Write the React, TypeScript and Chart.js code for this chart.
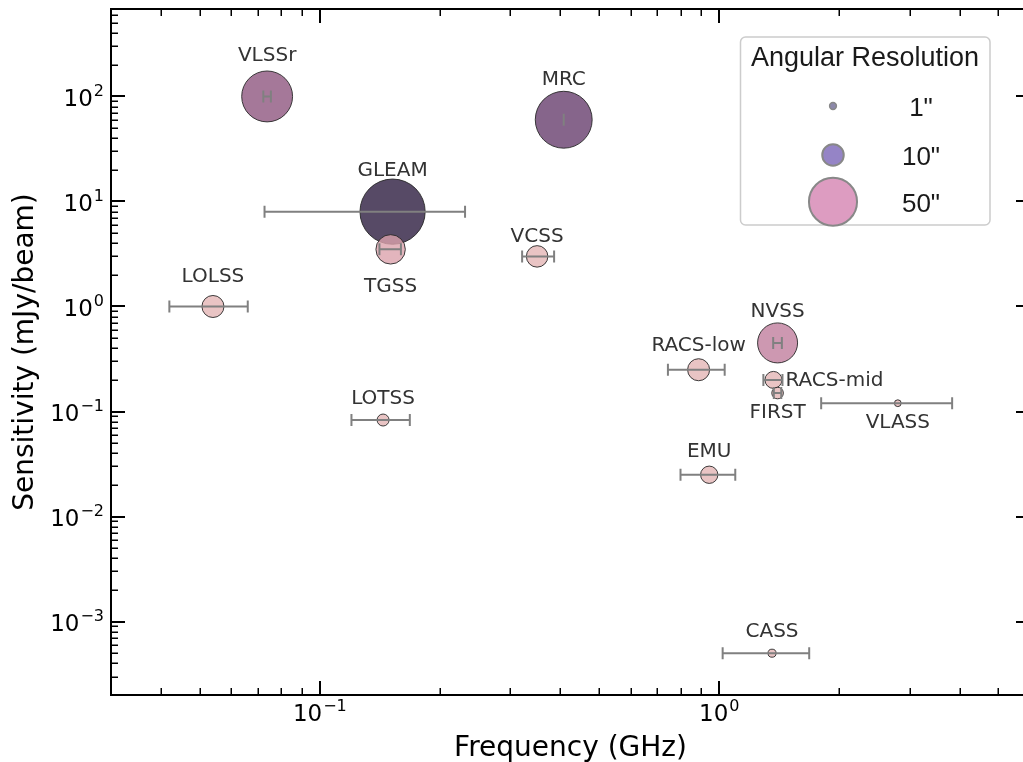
import React, { useEffect, useRef } from "react";
import { Chart, registerables } from "chart.js";

Chart.register(...registerables);

// ---- Data ----
const surveys = ["LOLSS", "VLSSr", "GLEAM", "TGSS", "LOTSS", "VCSS", "MRC", "RACS-low", "EMU", "NVSS", "RACS-mid", "FIRST", "CASS", "VLASS"];
const frequencyGHz = [0.054, 0.0738, 0.1521, 0.1504, 0.144, 0.35, 0.408, 0.888, 0.944, 1.40, 1.367, 1.40, 1.356, 2.8];
const sensitivityMJy = [1.0, 100, 8, 3.5, 0.083, 3.0, 60, 0.25, 0.025, 0.45, 0.2, 0.15, 0.0005, 0.12];
const resolutionArcsec = [10.5, 56, 92, 18.7, 3.1, 10, 70, 10.5, 6.5, 34.6, 6.25, 2.9, 1.4, 1.0];
const freqLowGHz = [0.042, 0.0722, 0.0727, 0.141, 0.120, 0.321, 0.408, 0.744, 0.80, 1.365, 1.29, 1.37, 1.02, 1.80];
const freqHighGHz = [0.066, 0.0754, 0.231, 0.1596, 0.168, 0.386, 0.408, 1.032, 1.097, 1.435, 1.44, 1.43, 1.68, 3.83];

const xMajorTicks = [0.1, 1];
const xTickExponents = ["−1", "0"];
const yMajorTicks = [1e-3, 1e-2, 1e-1, 1, 10, 100];
const yTickExponents = ["−3", "−2", "−1", "0", "1", "2"];

const legendTitle = "Angular Resolution";
const legendResolutions = [1, 10, 50];
const legendLabels = ['1"', '10"', '50"'];

// ---- Styles ----
const pointColors = [
  "#e9c4c4", "#a57899", "#574a66", "#e3b5bd", "#e9c4c4", "#e9c4c4", "#86658b",
  "#e9c4c4", "#e9c4c4", "#cd98b1", "#e9c4c4", "#e9c4c4", "#e9c4c4", "#e9c4c4",
];
// label offset (px) of label centre from point centre
const labelOffsets: [number, number][] = [
  [0, -31], [0, -42], [0, -42], [0, 36], [0, -22], [0, -21], [0, -41],
  [0, -25], [0, -24], [0, -32], [61, 0], [0, 19], [0, -22], [0, 19],
];
const legendColors = ["#8c88aa", "#9584c6", "#dd9cc1"];

const ALPHA = 0.8;
function withAlpha(hex: string, a: number) {
  const r = parseInt(hex.slice(1, 3), 16);
  const g = parseInt(hex.slice(3, 5), 16);
  const b = parseInt(hex.slice(5, 7), 16);
  const f = (v: number) => Math.max(0, Math.round((v - 255 * (1 - a)) / a));
  return `rgba(${f(r)},${f(g)},${f(b)},${a})`;
}
const radiusFor = (res: number) => 3.4 * Math.sqrt(res);

const FONT = '"DejaVu Sans", sans-serif';
const LFONT = '"Liberation Sans", Arial, sans-serif';

function drawPow(ctx: CanvasRenderingContext2D, exp: string, x: number, baseline: number, align: "center" | "right") {
  ctx.save();
  ctx.fillStyle = "#000";
  ctx.textBaseline = "alphabetic";
  ctx.textAlign = "left";
  ctx.font = `23px ${FONT}`;
  const wb = ctx.measureText("10").width;
  ctx.font = `16px ${FONT}`;
  const we = ctx.measureText(exp).width;
  const total = wb + we + 1;
  const start = align === "center" ? x - total / 2 : x - total;
  ctx.font = `23px ${FONT}`;
  ctx.fillText("10", start, baseline);
  ctx.font = `16px ${FONT}`;
  ctx.fillText(exp, start + wb + 1, baseline - 10);
  ctx.restore();
}

const decoPlugin = {
  id: "deco",
  afterDatasetsDraw(chart: any) {
    const ctx: CanvasRenderingContext2D = chart.ctx;
    const xs = chart.scales.x;
    const ys = chart.scales.y;
    // error bars
    ctx.save();
    ctx.strokeStyle = "#808080";
    ctx.lineWidth = 2;
    for (let i = 0; i < surveys.length; i++) {
      const y = ys.getPixelForValue(sensitivityMJy[i]);
      const x1 = xs.getPixelForValue(freqLowGHz[i]);
      const x2 = xs.getPixelForValue(freqHighGHz[i]);
      ctx.beginPath();
      ctx.moveTo(x1, y);
      ctx.lineTo(x2, y);
      ctx.moveTo(x1, y - 6);
      ctx.lineTo(x1, y + 6);
      ctx.moveTo(x2, y - 6);
      ctx.lineTo(x2, y + 6);
      ctx.stroke();
    }
    ctx.restore();
    // labels
    ctx.save();
    ctx.font = `20px ${FONT}`;
    ctx.fillStyle = "#333333";
    ctx.textAlign = "center";
    ctx.textBaseline = "middle";
    for (let i = 0; i < surveys.length; i++) {
      const x = xs.getPixelForValue(frequencyGHz[i]);
      const y = ys.getPixelForValue(sensitivityMJy[i]);
      const [dx, dy] = labelOffsets[i];
      ctx.fillText(surveys[i], x + dx, y + dy + 1);
    }
    ctx.restore();
  },
  afterDraw(chart: any) {
    const ctx: CanvasRenderingContext2D = chart.ctx;
    const xs = chart.scales.x;
    const ys = chart.scales.y;
    const { left, right, top, bottom } = chart.chartArea;
    ctx.save();
    ctx.strokeStyle = "#000";
    const xMinor: number[] = [];
    for (const d of [0.01, 0.1, 1]) for (let m = 2; m <= 9; m++) {
      const v = m * d;
      if (v > 0.03 && v < 6) xMinor.push(v);
    }
    const yMinor: number[] = [];
    for (const d of [1e-4, 1e-3, 1e-2, 1e-1, 1, 10, 100]) for (let m = 2; m <= 9; m++) {
      const v = m * d;
      if (v > 2.01e-4 && v < 680) yMinor.push(v);
    }
    ctx.lineWidth = 1.5;
    ctx.beginPath();
    for (const v of xMinor) {
      const x = Math.round(xs.getPixelForValue(v)) + 0.25;
      ctx.moveTo(x, bottom); ctx.lineTo(x, bottom - 7);
      ctx.moveTo(x, top); ctx.lineTo(x, top + 7);
    }
    for (const v of yMinor) {
      const y = Math.round(ys.getPixelForValue(v)) + 0.25;
      ctx.moveTo(left, y); ctx.lineTo(left + 7, y);
      ctx.moveTo(right, y); ctx.lineTo(right - 7, y);
    }
    ctx.stroke();
    ctx.lineWidth = 2;
    ctx.beginPath();
    for (const v of xMajorTicks) {
      const x = Math.round(xs.getPixelForValue(v));
      ctx.moveTo(x, bottom); ctx.lineTo(x, bottom - 14);
      ctx.moveTo(x, top); ctx.lineTo(x, top + 14);
    }
    for (const v of yMajorTicks) {
      const y = Math.round(ys.getPixelForValue(v));
      ctx.moveTo(left, y); ctx.lineTo(left + 14, y);
      ctx.moveTo(right, y); ctx.lineTo(right - 14, y);
    }
    ctx.stroke();
    ctx.lineWidth = 2;
    ctx.strokeRect(left, top, right - left, bottom - top);
    ctx.restore();

    xMajorTicks.forEach((v, i) => drawPow(ctx, xTickExponents[i], xs.getPixelForValue(v), 721, "center"));
    yMajorTicks.forEach((v, i) => drawPow(ctx, yTickExponents[i], 104, ys.getPixelForValue(v) + 9.5, "right"));

    ctx.save();
    ctx.fillStyle = "#000";
    ctx.font = `28px ${FONT}`;
    ctx.textAlign = "center";
    ctx.textBaseline = "alphabetic";
    ctx.fillText("Frequency (GHz)", (left + right) / 2, 756);
    ctx.translate(33, (top + bottom) / 2);
    ctx.rotate(-Math.PI / 2);
    ctx.fillText("Sensitivity (mJy/beam)", 0, 0);
    ctx.restore();

    ctx.save();
    ctx.beginPath();
    (ctx as any).roundRect(740.5, 37, 249.5, 188, 5);
    ctx.fillStyle = "rgba(255,255,255,0.8)";
    ctx.fill();
    ctx.strokeStyle = "#cccccc";
    ctx.lineWidth = 1.5;
    ctx.stroke();
    ctx.fillStyle = "#1a1a1a";
    ctx.font = `27px ${LFONT}`;
    ctx.textAlign = "center";
    ctx.textBaseline = "alphabetic";
    ctx.fillText(legendTitle, 865, 66);
    const rowY = [106, 155, 201.7];
    legendResolutions.forEach((res, i) => {
      ctx.beginPath();
      ctx.arc(833, rowY[i], radiusFor(res), 0, Math.PI * 2);
      ctx.fillStyle = legendColors[i];
      ctx.fill();
      ctx.strokeStyle = "#888888";
      ctx.lineWidth = i === 0 ? 1.5 : 2;
      ctx.stroke();
      ctx.fillStyle = "#1a1a1a";
      ctx.font = `26px ${LFONT}`;
      ctx.fillText(legendLabels[i], 921, rowY[i] + 10);
    });
    ctx.restore();
  },
};

export default function App() {
  const ref = useRef<HTMLCanvasElement>(null);
  useEffect(() => {
    if (!ref.current) return;
    const data = surveys.map((_, i) => ({
      x: frequencyGHz[i],
      y: sensitivityMJy[i],
      r: radiusFor(resolutionArcsec[i]),
    }));
    const chart = new Chart(ref.current, {
      type: "bubble",
      data: {
        datasets: [
          {
            label: "Surveys",
            data,
            backgroundColor: pointColors.map((c) => withAlpha(c, ALPHA)),
            borderColor: "rgba(40,40,40,0.9)",
            borderWidth: 1,
            hoverBorderWidth: 1,
            clip: false,
          },
        ],
      },
      options: {
        responsive: false,
        animation: false,
        devicePixelRatio: 1,
        layout: { autoPadding: false, padding: { left: 0, right: 10, top: 9, bottom: 0 } },
        plugins: { legend: { display: false }, tooltip: { enabled: false } },
        scales: {
          x: {
            type: "logarithmic",
            min: 0.03,
            max: 6,
            grid: { display: false, drawTicks: false },
            border: { display: false },
            ticks: { display: false },
            afterFit: (s: any) => { s.height = 67; },
          },
          y: {
            type: "logarithmic",
            min: 2e-4,
            max: 680,
            grid: { display: false, drawTicks: false },
            border: { display: false },
            ticks: { display: false },
            afterFit: (s: any) => { s.width = 111; },
          },
        },
      } as any,
      plugins: [decoPlugin],
    });
    return () => chart.destroy();
  }, []);
  return (
    <div style={{ position: "fixed", left: 0, top: 0, width: 1023, height: 762, overflow: "hidden", background: "#fff" }}>
      <canvas ref={ref} width={1040} height={762} style={{ display: "block", width: 1040, height: 762 }} />
    </div>
  );
}
